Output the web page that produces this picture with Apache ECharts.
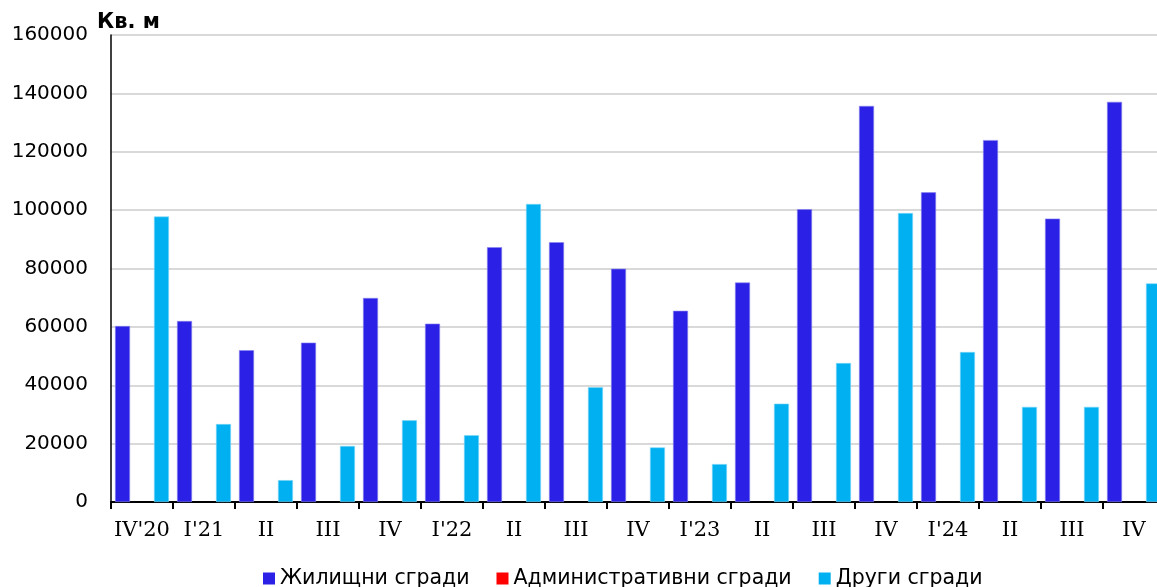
<!DOCTYPE html>
<html>
<head>
<meta charset="utf-8">
<script src="https://cdn.jsdelivr.net/npm/echarts@6/dist/echarts.min.js"></script>
<style>html,body{margin:0;padding:0;background:#fff}#c{width:1157px;height:587px}</style>
</head>
<body>
<div id="c"></div>
<script>
const categories = ["IV'20","I'21","II","III","IV","I'22","II","III","IV","I'23","II","III","IV","I'24","II","III","IV"];
const residential = [60300,62000,52000,54600,69900,61100,87300,89000,79900,65500,75200,100300,135700,106100,124000,97100,137100];
const administrative = [0,0,0,0,0,0,0,0,0,0,0,0,0,0,0,0,0];
const other = [97800,26700,7500,19200,28000,22900,102100,39300,18700,13000,33700,47600,99000,51400,32600,32600,74900];
const yTicks = {min:0, max:160000, interval:20000};

const chart = echarts.init(document.getElementById('c'), null, {renderer:'canvas'});
const sans = 'DejaVu Sans';
chart.setOption({
  animation:false,
  backgroundColor:'#fff',
  title:{text:'Кв. м', left:92, top:7, textStyle:{fontFamily:sans, fontWeight:'bold', fontSize:21, color:'#000'}},
  grid:{left:111, width:1054, top:35, height:467, containLabel:false, outerBoundsMode:'none'},
  legend:{
    left:258, top:563, itemWidth:12, itemHeight:12, itemGap:27,
    icon:'rect',
    itemStyle:{borderWidth:0},
    textStyle:{fontFamily:sans, fontSize:20.5, color:'#000', padding:[0,0,0,0]},
    data:['Жилищни сгради','Административни сгради','Други сгради']
  },
  xAxis:{
    type:'category', data:categories,
    axisLine:{lineStyle:{color:'#000', width:2}},
    axisTick:{show:true, length:7, lineStyle:{color:'#000', width:2}},
    axisLabel:{fontFamily:'DejaVu Serif', fontSize:21, color:'#000', margin:18, interval:0}
  },
  yAxis:{
    type:'value', min:yTicks.min, max:yTicks.max, interval:yTicks.interval,
    axisLine:{show:true, lineStyle:{color:'#000', width:1.5}},
    axisTick:{show:false},
    axisLabel:{fontFamily:sans, fontSize:20, color:'#000', margin:23, formatter:function(v){return String(v);}},
    splitLine:{lineStyle:{color:'#d9d9d9', width:2}}
  },
  series:[
    {name:'Жилищни сгради', type:'bar', data:residential, barGap:'30%', barCategoryGap:'13%', itemStyle:{color:'#2A20E6', borderColor:'#8a85f0', borderWidth:0.6}},
    {name:'Административни сгради', type:'bar', data:administrative, itemStyle:{color:'#FF0000'}},
    {name:'Други сгради', type:'bar', data:other, itemStyle:{color:'#00B0F0', borderColor:'#7fd7f7', borderWidth:0.6}}
  ]
});
</script>
</body>
</html>
